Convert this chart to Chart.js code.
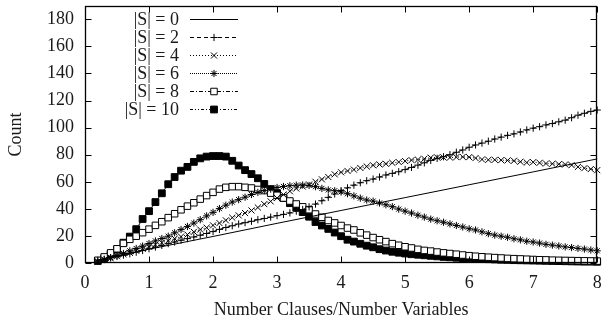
<!DOCTYPE html>
<html><head><meta charset="utf-8">
<script src="https://cdn.jsdelivr.net/npm/chart.js@4/dist/chart.umd.min.js"></script>
<style>html,body{margin:0;padding:0;background:#fff;}#wrap{width:603px;height:321px;position:relative;}</style>
</head><body><div id="wrap"><canvas id="c"></canvas></div>
<script>
// clause/variable ratio sampled for the marked series
const ratio = [0.2,0.3,0.4,0.5,0.6,0.7,0.8,0.9,1.0,1.1,
  1.2,1.3,1.4,1.5,1.6,1.7,1.8,1.9,2.0,2.1,
  2.2,2.3,2.4,2.5,2.6,2.7,2.8,2.9,3.0,3.1,
  3.2,3.3,3.4,3.5,3.6,3.7,3.8,3.9,4.0,4.1,
  4.2,4.3,4.4,4.5,4.6,4.7,4.8,4.9,5.0,5.1,
  5.2,5.3,5.4,5.5,5.6,5.7,5.8,5.9,6.0,6.1,
  6.2,6.3,6.4,6.5,6.6,6.7,6.8,6.9,7.0,7.1,
  7.2,7.3,7.4,7.5,7.6,7.7,7.8,7.9,8.0];
const seriesLabels = ['|S| = 0','|S| = 2','|S| = 4','|S| = 6','|S| = 8','|S| = 10'];
// |S| = 0 (plain line)
const s0x = [0.2,1,2,3,4,5,6,7,8];
const s0 = [2.2,10.2,19.6,29.3,38.8,48.3,57.8,67.3,76.9];
const s2 = [2,2.8,3.8,4.8,5.8,6.8,8,9.2,10.5,11.8,
  13,14.3,15.5,16.8,18,19.2,20.5,21.8,23.2,24.8,
  26.2,27.5,28.8,29.8,30.8,32,32.9,33.9,35,35.9,
  37,38.3,39.5,41.5,43.5,46,48.5,51,53.5,55.5,
  57.5,59.3,60.8,62,63.5,65,66.2,67.4,69,70.6,
  72.3,74,75.8,77.3,78.5,80,81.8,83.5,85.5,87.2,
  88.6,90,91.6,93,94.3,95.4,96.8,98.3,99.6,100.7,
  102,103,104.3,105.5,107.3,109.2,110.6,112,113];
const s4 = [1,2.5,3.5,5,6.5,7.5,9,10.5,12,13.5,
  15,16.5,18,19.5,21,23,24.7,26.1,27.8,29.5,
  31.5,33.5,35.2,36.9,38.8,41,43.5,45.5,48,50.5,
  53,55,56.5,58,60,61.8,63.5,65.5,67,68,
  69,70.2,71.3,72.2,72.8,73.3,74,74.6,75.3,76,
  76.4,77,77.8,78,78,77.9,78.2,78.4,78.2,77.5,
  76.5,76.2,76.2,76,75.8,75.5,74.8,74.2,74.5,74,
  73.5,73.3,73,72.8,72.3,71,70.1,69.4,68.6];
const s6 = [1.2,2.5,4,5.5,7,9,10.7,12.5,14.4,16.3,
  18.1,19.8,22.3,24.7,27,29.5,32,34.8,37.4,40.2,
  42.7,45,46.8,48.6,50.6,52.2,53.5,54.6,55.8,56.5,
  57.1,57.5,57.6,57.3,56.4,55.1,54,53.4,52.5,51.2,
  49.6,47.9,46.5,45.7,44.3,43,41.6,39.8,38.3,36.9,
  35.3,33.9,32.4,31.2,30.1,28.9,27.7,26.6,25.3,24.4,
  23,21.7,20.6,19.8,19,17.9,17.1,16.1,15.5,14.7,
  13.8,13.2,12.6,11.9,11.4,10.8,10.3,9.6,9];
const s8 = [2,4.5,7.5,10.5,14.5,17.5,19.8,22.4,25,27.8,
  30.5,33.5,36.4,39.3,42,44.5,47.2,49.8,52.2,54.6,
  55.9,56.4,56.4,55.9,55.4,54.3,53.5,51.6,50,48,
  45.8,43.6,41.5,39.4,36.2,33.8,31.4,29.6,27.7,25.8,
  24.4,22.3,20.6,18.8,17.2,15.8,14.3,13.1,12,11.1,
  10.1,9.3,8.8,8.1,7.5,7,6.5,5.9,5.4,5,
  4.6,4.3,4,3.7,3.4,3.2,3,2.8,2.6,2.4,
  2.3,2.1,2,1.9,1.8,1.7,1.6,1.5,1.4];
const s10 = [1.5,3.5,6.5,10,15,19.5,25,32.5,38.3,45,
  51.5,58.2,63.5,68.2,71,74.7,77.3,78.6,79,79,
  78.6,75.5,72,68.6,65.7,62.6,58.4,54.6,51.6,48,
  44.2,41,37.6,34.2,30.3,27.7,25.2,22.5,19.8,17.2,
  15.8,14.2,12.8,11.6,10.2,9.2,8.3,7.6,7,6.5,
  6.1,5.7,5.3,4.9,4.5,4.2,3.9,3.6,3.4,3.2,
  3,2.8,2.6,2.4,2.3,2.1,2,1.9,1.8,1.7,
  1.6,1.5,1.4,1.3,1.2,1.1,1,1,0.9];
const xTicks = [0,1,2,3,4,5,6,7,8];
const yTicks = [0,20,40,60,80,100,120,140,160,180];

const FONT = "'Liberation Serif','Times New Roman',serif";
const FS = 18;
Chart.defaults.font.family = FONT;
Chart.defaults.font.size = FS;
Chart.defaults.color = '#1a1a1a';

function pts(xs, ys){ return xs.map((x,i)=>({x:x, y:ys[i]})); }
function ds(label, xs, ys, style, radius, dash, fill){
  return {label:label, data:pts(xs,ys), borderColor:'#000', borderWidth:1, borderDash:dash,
    pointStyle:style, pointRadius:radius, pointHoverRadius:radius, pointBorderWidth:1,
    pointBorderColor:'#000', pointBackgroundColor: fill ? '#000' : '#fff', tension:0, clip:false, fill:false};
}
const datasets = [
  ds(seriesLabels[0], s0x, s0, 'circle', 0, [], false),
  ds(seriesLabels[1], ratio, s2, 'cross', 3.6, [4,3], false),
  ds(seriesLabels[2], ratio, s4, 'crossRot', 4.3, [1,2], false),
  ds(seriesLabels[3], ratio, s6, 'star', 3.6, [1,1], true),
  ds(seriesLabels[4], ratio, s8, 'rect', 4.6, [4,2,1,2], false),
  ds(seriesLabels[5], ratio, s10, 'rect', 4.8, [3,2,1,2,1,2], true)
];

const framePlugin = {
  id:'frame',
  afterDatasetsDraw(chart){
    const ctx = chart.ctx, a = chart.chartArea, xs = chart.scales.x, ys = chart.scales.y;
    ctx.save();
    ctx.strokeStyle = '#000'; ctx.lineWidth = 1; ctx.setLineDash([]);
    const L = Math.round(a.left)+0.5, R = Math.round(a.right)-0.5, T = Math.round(a.top)+0.5, B = Math.round(a.bottom)-0.5;
    ctx.beginPath();
    xTicks.forEach(v=>{
      const p = Math.round(xs.getPixelForValue(v))+0.5;
      ctx.moveTo(p,B); ctx.lineTo(p,B-6);
      ctx.moveTo(p,T); ctx.lineTo(p,T+6);
    });
    yTicks.forEach(v=>{
      const p = Math.round(ys.getPixelForValue(v))+0.5;
      ctx.moveTo(L,p); ctx.lineTo(L+6,p);
      ctx.moveTo(R,p); ctx.lineTo(R-6,p);
    });
    ctx.stroke();
    ctx.lineWidth = 1.3;
    ctx.strokeRect(L,T,R-L,B-T);
    // legend
    ctx.font = FS + 'px ' + FONT;
    ctx.textAlign = 'right'; ctx.textBaseline = 'middle';
    chart.data.datasets.forEach((d,i)=>{
      const y = Math.round(a.top + 13 + i*18) + 0.5;
      ctx.fillStyle = '#1a1a1a';
      ctx.fillText(d.label, a.left + 94, y + 1);
      ctx.strokeStyle = '#000'; ctx.lineWidth = 1; ctx.setLineDash(d.borderDash || []);
      ctx.beginPath(); ctx.moveTo(a.left+105, y); ctx.lineTo(a.left+153, y); ctx.stroke();
      ctx.setLineDash([]);
      if (d.pointRadius > 0) {
        ctx.fillStyle = d.pointBackgroundColor; ctx.strokeStyle = '#000'; ctx.lineWidth = 1;
        Chart.helpers.drawPoint(ctx, {pointStyle:d.pointStyle, radius:d.pointRadius, borderWidth:1, rotation:0}, a.left+129, y);
      }
    });
    ctx.restore();
  }
};

function noPad(s){ s.paddingTop = 0; s.paddingBottom = 0; s.paddingLeft = 0; s.paddingRight = 0; }

new Chart(document.getElementById('c'), {
  type:'line',
  data:{datasets:datasets},
  plugins:[framePlugin],
  options:{
    responsive:true, maintainAspectRatio:false, animation:false, devicePixelRatio:1,
    layout:{padding:{left:0,right:4,top:4,bottom:0}},
    plugins:{legend:{display:false}, tooltip:{enabled:false}},
    scales:{
      x:{type:'linear', min:0, max:8,
        afterBuildTicks(s){ s.ticks = xTicks.map(v=>({value:v})); },
        afterFit(s){ s.height = 58; noPad(s); },
        grid:{display:false, drawTicks:false}, border:{display:false},
        ticks:{padding:9, maxRotation:0, autoSkip:false},
        title:{display:true, text:'Number Clauses/Number Variables', padding:{top:0,bottom:0}}
      },
      y:{type:'linear', min:0, max:190,
        afterBuildTicks(s){ s.ticks = yTicks.map(v=>({value:v})); },
        afterFit(s){ s.width = 85; noPad(s); },
        grid:{display:false, drawTicks:false}, border:{display:false},
        ticks:{padding:11, autoSkip:false},
        title:{display:true, text:'Count', padding:{top:5,bottom:0}}
      }
    }
  }
});
</script></body></html>
